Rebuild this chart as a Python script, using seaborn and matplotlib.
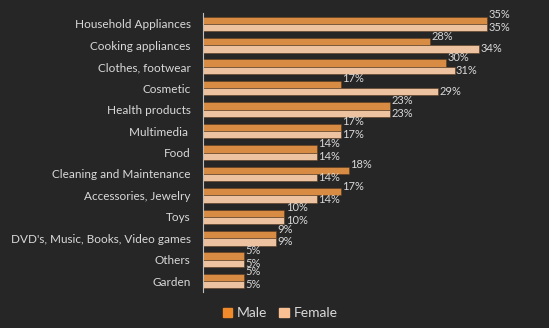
import matplotlib
matplotlib.use("Agg")
import matplotlib.pyplot as plt
import seaborn as sns
import pandas as pd

categories = ["Household Appliances", "Cooking appliances", "Clothes, footwear", "Cosmetic",
              "Health products", "Multimedia ", "Food", "Cleaning and Maintenance",
              "Accessories, Jewelry", "Toys", "DVD's, Music, Books, Video games", "Others", "Garden"]
male = [35, 28, 30, 17, 23, 17, 14, 18, 17, 10, 9, 5, 5]
female = [35, 34, 31, 29, 23, 17, 14, 14, 14, 10, 9, 5, 5]
series = ["Male", "Female"]

BG = "#262626"
TXT = "#d9d9d9"
MALE_C = "#F08A2A"
FEMALE_C = "#F9C193"

df = pd.DataFrame({
    "category": categories * 2,
    "value": male + female,
    "series": [series[0]] * len(categories) + [series[1]] * len(categories),
})

sns.set_theme(style="white")
plt.rcParams["font.family"] = ["Lato", "DejaVu Sans"]

fig = plt.figure(figsize=(5.49, 3.28), dpi=100, facecolor=BG)
ax = fig.add_axes([0.370, 0.110, 0.625, 0.850], facecolor=BG)

sns.barplot(data=df, y="category", x="value", hue="series", orient="h",
            palette=[MALE_C, FEMALE_C], width=0.68, ax=ax, legend=False,
            edgecolor="#5a3a1e", linewidth=0.4)

ax.set_xlim(0, 42.3)
ax.set_ylim(len(categories) - 0.5, -0.5)
ax.set_xlabel("")
ax.set_ylabel("")
ax.set_xticks([])
for s in ["top", "right", "bottom"]:
    ax.spines[s].set_visible(False)
ax.spines["left"].set_color("#bfbfbf")
ax.spines["left"].set_linewidth(0.8)
ax.tick_params(axis="y", length=0, pad=9, labelsize=8.5, labelcolor=TXT)

for i, cont in enumerate(ax.containers):
    anns = ax.bar_label(cont, labels=[f"{int(round(v))}%" for v in cont.datavalues],
                        padding=1, fontsize=8, color=TXT)
    if i == 0:
        for a in anns:
            a.xyann = (1, 4)

handles = [plt.Rectangle((0, 0), 1, 1, color=MALE_C), plt.Rectangle((0, 0), 1, 1, color=FEMALE_C)]
fig.legend(handles, series, loc="center", bbox_to_anchor=(0.51, 0.045), ncol=2,
           frameon=False, fontsize=10, labelcolor=TXT, handlelength=0.7, handleheight=0.7,
           handletextpad=0.3, columnspacing=0.9)

fig.savefig("out.png", dpi=100, facecolor=BG)
